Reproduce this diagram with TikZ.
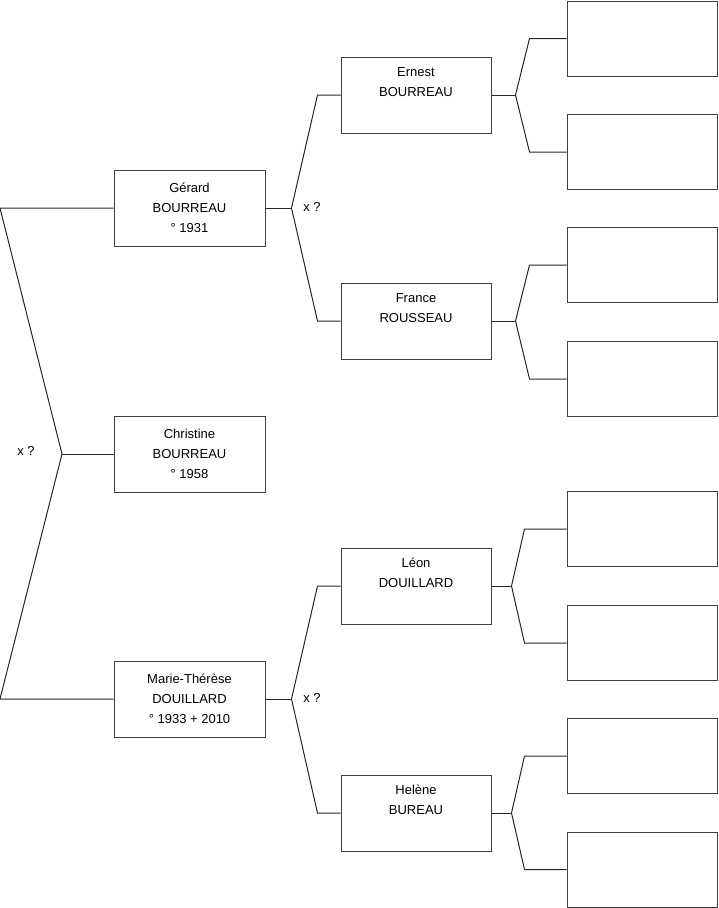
\documentclass[tikz,border=0pt]{standalone}
\usepackage{fontspec}
\setmainfont{Liberation Sans}
\usetikzlibrary{positioning}

\tikzset{
  person/.style={draw=black!75, line width=1pt, inner sep=0pt, align=center,
                 minimum height=76pt, font=\fontsize{13}{20}\selectfont},
  gen1/.style={person, minimum width=151pt},
  gen2/.style={person, minimum width=150pt},
  gen3/.style={person, minimum width=150.5pt, minimum height=75pt},
  link/.style={draw=black!85, line width=1pt},
  union/.style={font=\fontsize{13}{15}\selectfont}
}

\begin{document}
\begin{tikzpicture}[x=1pt, y=-1pt]
  \useasboundingbox (0,0) rectangle (719,908);

  % Generation 0 and 1
  \node[gen1] (christine) at (189.5,454) {Christine\\BOURREAU\\° 1958};
  \node[gen1] (gerard)    at (189.5,208) {Gérard\\BOURREAU\\° 1931};
  \node[gen1] (marie)     at (189.5,699) {Marie-Thérèse\\DOUILLARD\\° 1933 + 2010};

  % Generation 2
  \node[gen2] (ernest) at (416,95)  {Ernest\\BOURREAU\\\strut};
  \node[gen2] (france) at (416,321) {France\\ROUSSEAU\\\strut};
  \node[gen2] (leon)   at (416,586) {Léon\\DOUILLARD\\\strut};
  \node[gen2] (helene) at (416,813) {Helène\\BUREAU\\\strut};

  % Generation 3 (empty)
  \node[gen3] (e1) at (642.25,38.5) {};
  \node[gen3] (e2) at (642.25,152)  {};
  \node[gen3] (f1) at (642.25,265)  {};
  \node[gen3] (f2) at (642.25,379)  {};
  \node[gen3] (l1) at (642.25,529)  {};
  \node[gen3] (l2) at (642.25,643)  {};
  \node[gen3] (h1) at (642.25,756)  {};
  \node[gen3] (h2) at (642.25,869.5) {};

  % Root fork
  \coordinate (root) at (62,454);
  \draw[link] (christine.west) -- (root);
  \draw[link] (gerard.west) -- ([xshift=-113.5pt]gerard.west) -- (root)
              -- ([xshift=-113.5pt]marie.west) -- (marie.west);
  \node[union] (xroot) at (26,451) {x ?};

  % Forks of generation 1
  \draw[link] (gerard.east) -- ++(26,0) coordinate (fg);
  \draw[link] (ernest.west) -- ([xshift=-23pt]ernest.west) -- (fg)
              -- ([xshift=-23pt]france.west) -- (france.west);
  \node[union] (xg) at (312,207) {x ?};

  \draw[link] (marie.east) -- ++(26,0) coordinate (fm);
  \draw[link] (leon.west) -- ([xshift=-23pt]leon.west) -- (fm)
              -- ([xshift=-23pt]helene.west) -- (helene.west);
  \node[union] (xm) at (312,698) {x ?};

  % Forks of generation 2
  \foreach \p/\a/\b/\v/\e in {ernest/e1/e2/24/37, france/f1/f2/24/37,
                              leon/l1/l2/20/42, helene/h1/h2/20/42} {
    \draw[link] (\p.east) -- ++(\v,0) coordinate (f\p);
    \draw[link] (\a.west) -- ([xshift=-\e pt]\a.west) -- (f\p)
                -- ([xshift=-\e pt]\b.west) -- (\b.west);
  }
\end{tikzpicture}
\end{document}
